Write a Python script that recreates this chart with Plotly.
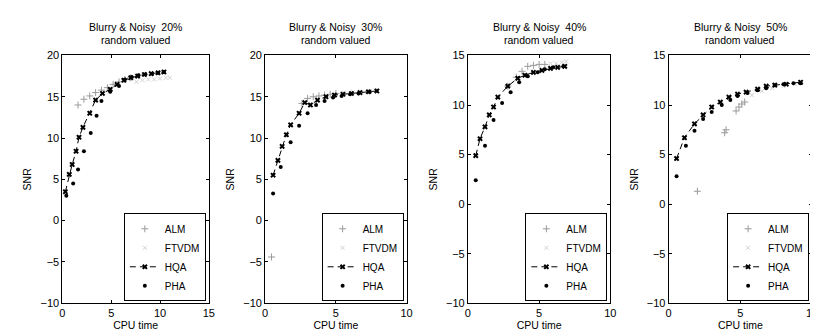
import plotly.graph_objects as go

W, H = 818, 334

# ---------------- data ----------------
titles_pct = ["20%", "30%", "40%", "50%"]
x_ranges = [[0, 15], [0, 10], [0, 10], [0, 10]]
y_ranges = [[-10, 20], [-10, 20], [-10, 15], [-10, 15]]
x_ticks = [[0, 5, 10, 15], [0, 5, 10], [0, 5, 10], [0, 5, 10]]
y_ticks = [[-10, -5, 0, 5, 10, 15, 20], [-10, -5, 0, 5, 10, 15, 20],
           [-10, -5, 0, 5, 10, 15], [-10, -5, 0, 5, 10, 15]]

# Panel 1 (20%)
hqa1_x = [0.3, 0.7, 1.0, 1.4, 1.7, 2.1, 2.8, 3.4, 4.1, 4.9, 5.6, 6.3, 7.0, 7.7, 8.4, 9.1, 9.8, 10.4]
hqa1_y = [3.5, 5.6, 6.8, 8.4, 10.1, 11.3, 13.0, 14.6, 15.4, 15.9, 16.5, 17.0, 17.3, 17.5, 17.7, 17.8, 17.9, 18.0]
pha1_x = [0.4, 1.1, 1.6, 2.2, 2.9, 3.5, 4.0, 4.9, 5.8, 6.4, 7.1, 7.8, 8.5, 9.2, 9.8, 10.4]
pha1_y = [3.0, 4.5, 6.2, 8.4, 10.6, 12.7, 14.5, 15.6, 16.3, 17.1, 17.4, 17.6, 17.7, 17.8, 17.9, 18.0]
alm1_x = [1.6, 2.2, 2.8, 3.4, 4.0, 4.6, 5.2, 5.8, 6.4, 7.0]
alm1_y = [14.0, 14.7, 15.1, 15.5, 15.8, 16.1, 16.5, 16.8, 17.1, 17.3]
ftv1_x = [7.6, 8.2, 8.8, 9.4, 10.0, 10.6, 11.0]
ftv1_y = [16.8, 17.0, 17.1, 17.1, 17.2, 17.3, 17.3]

# Panel 2 (30%)
hqa2_x = [0.56, 0.9, 1.2, 1.5, 1.8, 2.4, 2.8, 3.2, 3.7, 4.3, 4.9, 5.5, 6.1, 6.7, 7.3, 7.9]
hqa2_y = [5.5, 7.3, 9.0, 10.4, 11.6, 13.0, 14.3, 14.0, 14.6, 15.0, 15.2, 15.3, 15.4, 15.5, 15.6, 15.7]
pha2_x = [0.56, 1.1, 1.8, 2.4, 3.0, 3.6, 4.2, 4.8, 5.4, 6.0, 6.6, 7.4]
pha2_y = [3.3, 6.5, 9.5, 11.5, 13.0, 14.0, 14.5, 14.9, 15.1, 15.3, 15.4, 15.6]
alm2_x = [0.45, 2.6, 3.0, 3.4, 3.8, 4.2, 4.6, 5.0]
alm2_y = [-4.4, 14.2, 14.8, 15.0, 15.1, 15.2, 15.3, 15.4]
ftv2_x = [5.6, 6.2, 6.8, 7.4, 7.8]
ftv2_y = [15.5, 15.6, 15.6, 15.7, 15.8]

# Panel 3 (40%)
hqa3_x = [0.55, 0.85, 1.2, 1.5, 1.8, 2.1, 2.8, 3.5, 4.0, 4.6, 5.2, 5.8, 6.3, 6.8]
hqa3_y = [4.9, 6.6, 7.8, 9.0, 9.8, 10.8, 11.9, 12.7, 13.0, 13.3, 13.5, 13.7, 13.8, 13.9]
pha3_x = [0.55, 1.2, 1.8, 2.4, 3.0, 3.6, 4.2, 4.9, 5.4, 6.0, 6.7]
pha3_y = [2.4, 5.9, 8.5, 10.2, 11.3, 12.3, 12.9, 13.3, 13.6, 13.8, 13.9]
alm3_x = [2.8, 3.4, 3.8, 4.2, 4.6, 5.0, 5.4]
alm3_y = [11.9, 12.8, 13.4, 13.9, 14.0, 14.1, 14.1]
ftv3_x = [5.8, 6.2, 6.6, 6.9]
ftv3_y = [14.2, 14.2, 14.3, 14.4]

# Panel 4 (50%)
hqa4_x = [0.55, 1.1, 1.8, 2.4, 3.0, 3.6, 4.2, 4.8, 5.4, 6.2, 6.8, 7.4, 8.2, 9.2]
hqa4_y = [4.6, 6.7, 8.1, 9.0, 9.8, 10.3, 10.8, 11.1, 11.3, 11.6, 11.9, 12.0, 12.1, 12.3]
pha4_x = [0.55, 1.2, 1.8, 2.4, 3.0, 3.7, 4.3, 4.8, 5.5, 6.2, 6.8, 7.4, 8.0, 8.7, 9.2]
pha4_y = [2.8, 5.9, 7.4, 8.6, 9.3, 10.0, 10.5, 10.9, 11.2, 11.5, 11.7, 12.0, 12.1, 12.2, 12.2]
alm4_x = [2.0, 3.9, 4.0, 4.7, 4.9, 5.1, 5.3]
alm4_y = [1.3, 7.2, 7.5, 9.4, 9.8, 10.1, 10.3]
ftv4_x = [5.8, 6.5, 7.2, 8.0, 8.8]
ftv4_y = [11.0, 11.4, 11.7, 11.9, 12.1]

panels = [
    (alm1_x, alm1_y, ftv1_x, ftv1_y, hqa1_x, hqa1_y, pha1_x, pha1_y),
    (alm2_x, alm2_y, ftv2_x, ftv2_y, hqa2_x, hqa2_y, pha2_x, pha2_y),
    (alm3_x, alm3_y, ftv3_x, ftv3_y, hqa3_x, hqa3_y, pha3_x, pha3_y),
    (alm4_x, alm4_y, ftv4_x, ftv4_y, hqa4_x, hqa4_y, pha4_x, pha4_y),
]

# ---------------- layout (pixel boxes) ----------------
x_px = [(52, 200), (257, 400), (462, 606), (665, 810)]
y_top, y_bot = 43, 300
FONT = "Liberation Sans, Arial, sans-serif"

fig = go.Figure()
layout = dict(
    width=W, height=H, margin=dict(l=0, r=0, t=0, b=0),
    paper_bgcolor="white", plot_bgcolor="white",
    font=dict(family=FONT, size=11, color="black"),
    annotations=[],
)

for i, (ax, ay, fx, fy, hx, hy, px, py) in enumerate(panels):
    n = "" if i == 0 else str(i + 1)
    xa, ya = "x" + n, "y" + n
    lg = "legend" + n
    fig.add_trace(go.Scatter(x=ax, y=ay, name="ALM", mode="markers", xaxis=xa, yaxis=ya,
                             legend=lg,
                             marker=dict(symbol="cross-thin", size=5,
                                         line=dict(color="#9a9a9a", width=1))))
    fig.add_trace(go.Scatter(x=fx, y=fy, name="FTVDM", mode="markers", xaxis=xa, yaxis=ya,
                             legend=lg,
                             marker=dict(symbol="x-thin", size=4,
                                         line=dict(color="#d2d2d2", width=1))))
    fig.add_trace(go.Scatter(x=hx, y=hy, name="HQA", mode="lines+markers", xaxis=xa, yaxis=ya,
                             legend=lg,
                             line=dict(color="black", width=1, dash="6px,4px"),
                             marker=dict(symbol="x", size=5, color="black")))
    fig.add_trace(go.Scatter(x=px, y=py, name="PHA", mode="markers", xaxis=xa, yaxis=ya,
                             legend=lg,
                             marker=dict(symbol="circle", size=4, color="black")))

    x0, x1 = x_px[i]
    axis_common = dict(showline=True, linecolor="black", linewidth=1, mirror="allticks",
                       ticks="inside", ticklen=3, tickcolor="black", showgrid=False,
                       zeroline=False, tickfont=dict(size=11, family=FONT))
    layout["xaxis" + n] = dict(axis_common, domain=[x0 / W, x1 / W], range=x_ranges[i],
                               tickvals=x_ticks[i], anchor=ya,
                               title=dict(text="CPU time", font=dict(size=10.5), standoff=2))
    layout["yaxis" + n] = dict(axis_common, domain=[1 - y_bot / H, 1 - y_top / H],
                               range=y_ranges[i], tickvals=y_ticks[i], anchor=xa,
                               title=dict(text="SNR", font=dict(size=10.5), standoff=6))
    layout[lg] = dict(x=(x1 - 3) / W, y=1 - (y_bot - 2) / H, xanchor="right", yanchor="bottom",
                      xref="paper", yref="paper",
                      bgcolor="white", bordercolor="black", borderwidth=1,
                      font=dict(size=10, family=FONT), itemwidth=30,
                      tracegroupgap=0)
    cx = (x0 + x1) / 2 / W
    layout["annotations"].append(dict(text="Blurry &amp; Noisy  " + titles_pct[i], x=cx, y=1 - 14 / H,
                                      xref="paper", yref="paper", showarrow=False,
                                      xanchor="center", yanchor="middle",
                                      font=dict(size=10.5, family=FONT)))
    layout["annotations"].append(dict(text="random valued", x=cx, y=1 - 27 / H,
                                      xref="paper", yref="paper", showarrow=False,
                                      xanchor="center", yanchor="middle",
                                      font=dict(size=10.5, family=FONT)))

fig.update_layout(**layout)
fig.write_html("out.html")
